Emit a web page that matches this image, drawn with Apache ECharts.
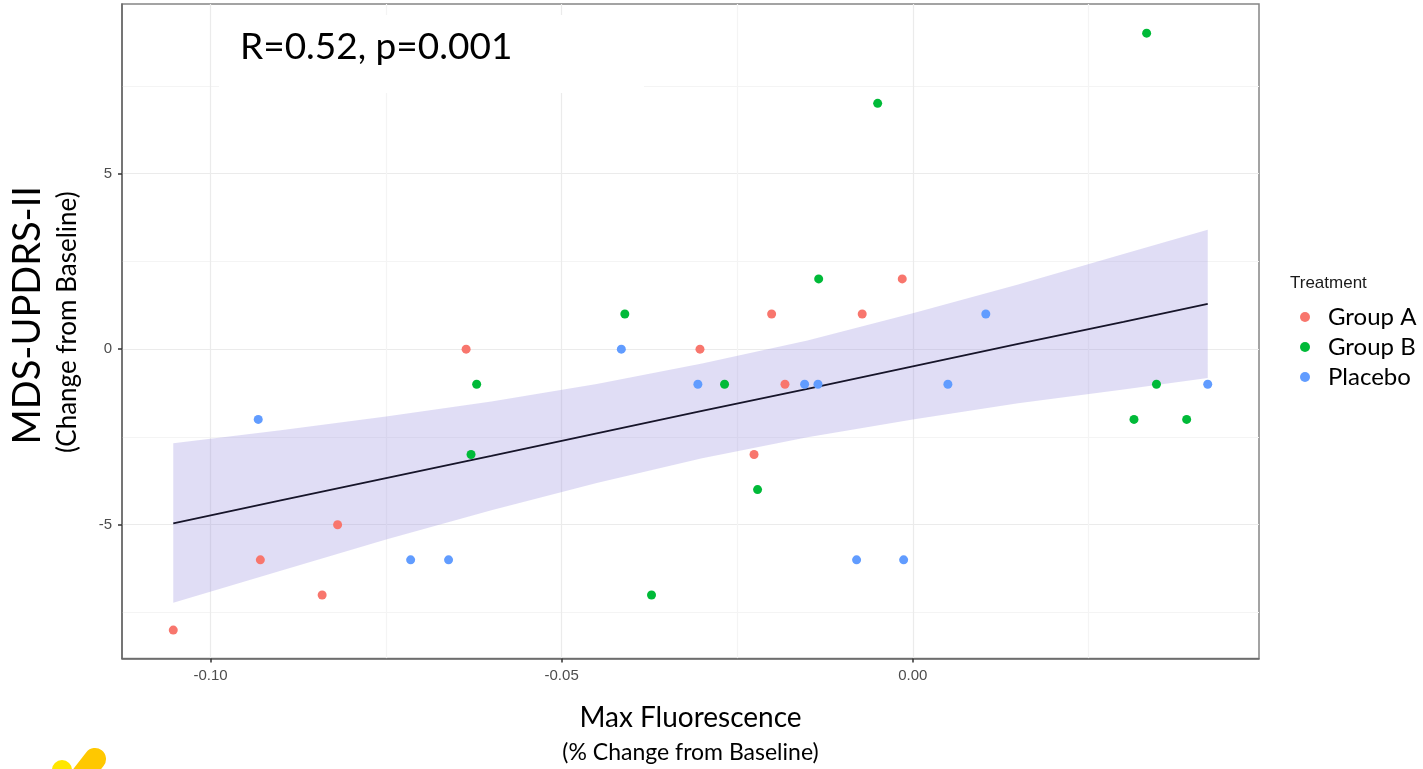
<!DOCTYPE html>
<html>
<head>
<meta charset="utf-8">
<script src="https://cdn.jsdelivr.net/npm/echarts@6/dist/echarts.min.js"></script>
<style>
  html, body { margin: 0; padding: 0; background: #fff; }
  #chart { width: 1423px; height: 769px; }
</style>
</head>
<body>
<div id="chart"></div>
<script>
// tick positions
var xTicks = [-0.10, -0.05, 0.00];
var xMinorTicks = [-0.075, -0.025, 0.025];
var yTicks = [-5, 0, 5];
var yMinorTicks = [-7.5, -2.5, 2.5, 7.5];

// points per treatment
var groupAX = [-0.1053, -0.0929, -0.0841, -0.0819, -0.0636, -0.0303, -0.0226, -0.0201, -0.0182, -0.0072, -0.0015];
var groupAY = [-8, -6, -7, -5, 0, 0, -3, 1, -1, 1, 2];
var groupBX = [-0.0629, -0.0621, -0.0410, -0.0372, -0.0268, -0.0221, -0.0134, -0.0050, 0.0315, 0.0333, 0.0347, 0.0390];
var groupBY = [-3, -1, 1, -7, -1, -4, 2, 7, -2, 9, -1, -2];
var placeboX = [-0.0932, -0.0715, -0.0661, -0.0415, -0.0306, -0.0154, -0.0135, -0.0080, -0.0013, 0.0050, 0.0104, 0.0420];
var placeboY = [-2, -6, -6, 0, -1, -1, -1, -6, -6, -1, 1, -1];

// fitted line and confidence band
var bandX    = [-0.1053, -0.09, -0.075, -0.06, -0.045, -0.03, -0.015, 0, 0.015, 0.03, 0.042];
var fitY     = [-4.96, -4.31, -3.67, -3.04, -2.40, -1.76, -1.13, -0.49, 0.15, 0.78, 1.29];
var bandLow  = [-7.22, -6.31, -5.42, -4.59, -3.81, -3.11, -2.51, -2.00, -1.54, -1.15, -0.82];
var bandHigh = [-2.68, -2.31, -1.92, -1.49, -0.99, -0.41, 0.25, 1.02, 1.84, 2.71, 3.40];

var zip = function(a, b){ return a.map(function(v, i){ return [v, b[i]]; }); };

var chart = echarts.init(document.getElementById('chart'));

var option = {
    animation: false,
    backgroundColor: '#fff',
    title: {
        text: 'Treatment',
        left: 1290,
        top: 275,
        padding: 0,
        textStyle: { fontFamily: 'Liberation Sans', fontSize: 17, fontWeight: 'normal', color: '#1a1a1a' }
    },
    legend: {
        orient: 'vertical',
        left: 1300,
        top: 305,
        padding: 0,
        itemGap: 6,
        itemWidth: 10,
        itemHeight: 10,
        icon: 'circle',
        data: ['Group A', 'Group B', 'Placebo'],
        textStyle: { fontFamily: 'Lato', fontSize: 24, lineHeight: 24, color: '#000', padding: [0, 0, 0, 13] }
    },
    grid: {
        left: 122, right: 164, top: 4, bottom: 109,
        show: true,
        backgroundColor: '#fff',
        borderColor: '#858585',
        borderWidth: 1.5
    },
    xAxis: [{
        type: 'value',
        min: -0.1126,
        max: 0.0493,
        position: 'bottom',
        axisLine: { show: true, onZero: false, lineStyle: { color: '#666', width: 1.5 } },
        axisTick: { show: true, length: 4, customValues: xTicks, lineStyle: { color: '#333', width: 1.5 } },
        axisLabel: {
            customValues: xTicks, margin: 10, color: '#4d4d4d', fontSize: 15, fontFamily: 'Liberation Sans',
            formatter: function(v){ return v.toFixed(2); }
        },
        splitLine: { show: true, lineStyle: { color: '#ebebeb', width: 1.2 } },
        name: '{t|Max Fluorescence}\n{s|(% Change from Baseline)}',
        nameLocation: 'middle',
        nameGap: 42,
        nameTextStyle: {
            rich: {
                t: { fontFamily: 'Lato', fontSize: 28, lineHeight: 34, color: '#000' },
                s: { fontFamily: 'Lato', fontSize: 23, lineHeight: 36, color: '#000' }
            }
        }
    }, {
        type: 'value',
        min: -0.1126,
        max: 0.0493,
        position: 'top',
        axisLine: { show: false },
        axisTick: { show: false, customValues: xMinorTicks },
        axisLabel: { show: false, customValues: xMinorTicks },
        splitLine: { show: true, lineStyle: { color: '#f4f4f4', width: 1.2 } }
    }],
    yAxis: [{
        type: 'value',
        min: -8.81,
        max: 9.83,
        position: 'left',
        axisLine: { show: true, onZero: false, lineStyle: { color: '#666', width: 1.5 } },
        axisTick: { show: true, length: 4, customValues: yTicks, lineStyle: { color: '#333', width: 1.5 } },
        axisLabel: { customValues: yTicks, margin: 10, color: '#4d4d4d', fontSize: 15, fontFamily: 'Liberation Sans' },
        splitLine: { show: true, lineStyle: { color: '#ebebeb', width: 1.2 } },
        name: '{t|MDS-UPDRS-II}\n{s|(Change from Baseline)}',
        nameLocation: 'middle',
        nameRotate: 90,
        nameGap: 40,
        nameTextStyle: {
            rich: {
                t: { fontFamily: 'Lato', fontSize: 38, lineHeight: 52, color: '#000', padding: [0, 0, 0, 32] },
                s: { fontFamily: 'Lato', fontSize: 26, lineHeight: 28, color: '#000', padding: [0, 0, 0, 18] }
            }
        }
    }, {
        type: 'value',
        min: -8.81,
        max: 9.83,
        position: 'right',
        axisLine: { show: false },
        axisTick: { show: false, customValues: yMinorTicks },
        axisLabel: { show: false, customValues: yMinorTicks },
        splitLine: { show: true, lineStyle: { color: '#f4f4f4', width: 1.2 } }
    }],
    graphic: [
        // white box behind the correlation text
        { type: 'rect', left: 219, top: 15, z: 100, shape: { width: 425, height: 78 }, style: { fill: '#fff' } },
        { type: 'text', left: 240, top: 29, z: 101,
          style: { text: 'R=0.52, p=0.001', fontFamily: 'Lato', fontSize: 37, fill: '#000' } },
        // corner logo fragment
        { type: 'line', z: 100, shape: { x1: 74, y1: 786, x2: 95, y2: 759 },
          style: { stroke: '#ffc800', lineWidth: 22, lineCap: 'round' } },
        { type: 'circle', z: 101, shape: { cx: 62, cy: 770, r: 10 }, style: { fill: '#ffe600' } }
    ],
    series: [{
        name: 'band',
        type: 'custom',
        silent: true,
        z: 1,
        data: bandX.map(function(x, i){ return [x, bandLow[i], bandHigh[i]]; }),
        encode: { x: 0, y: [1, 2] },
        renderItem: function(params, api){
            if (params.dataIndex !== 0) return null;
            var pts = [];
            for (var i = 0; i < bandX.length; i++) pts.push(api.coord([bandX[i], bandHigh[i]]));
            for (var j = bandX.length - 1; j >= 0; j--) pts.push(api.coord([bandX[j], bandLow[j]]));
            return { type: 'polygon', shape: { points: pts }, style: { fill: 'rgba(160,150,225,0.32)' } };
        }
    }, {
        name: 'fit',
        type: 'line',
        silent: true,
        z: 2,
        symbol: 'none',
        data: zip(bandX, fitY),
        lineStyle: { color: '#17152a', width: 1.8 }
    }, {
        name: 'Group A',
        type: 'scatter',
        z: 3,
        symbolSize: 9,
        data: zip(groupAX, groupAY),
        itemStyle: { color: '#F8766D', opacity: 1 }
    }, {
        name: 'Group B',
        type: 'scatter',
        z: 3,
        symbolSize: 9,
        data: zip(groupBX, groupBY),
        itemStyle: { color: '#00BA38', opacity: 1 }
    }, {
        name: 'Placebo',
        type: 'scatter',
        z: 3,
        symbolSize: 9,
        data: zip(placeboX, placeboY),
        itemStyle: { color: '#619CFF', opacity: 1 }
    }]
};

chart.setOption(option);
</script>
</body>
</html>
